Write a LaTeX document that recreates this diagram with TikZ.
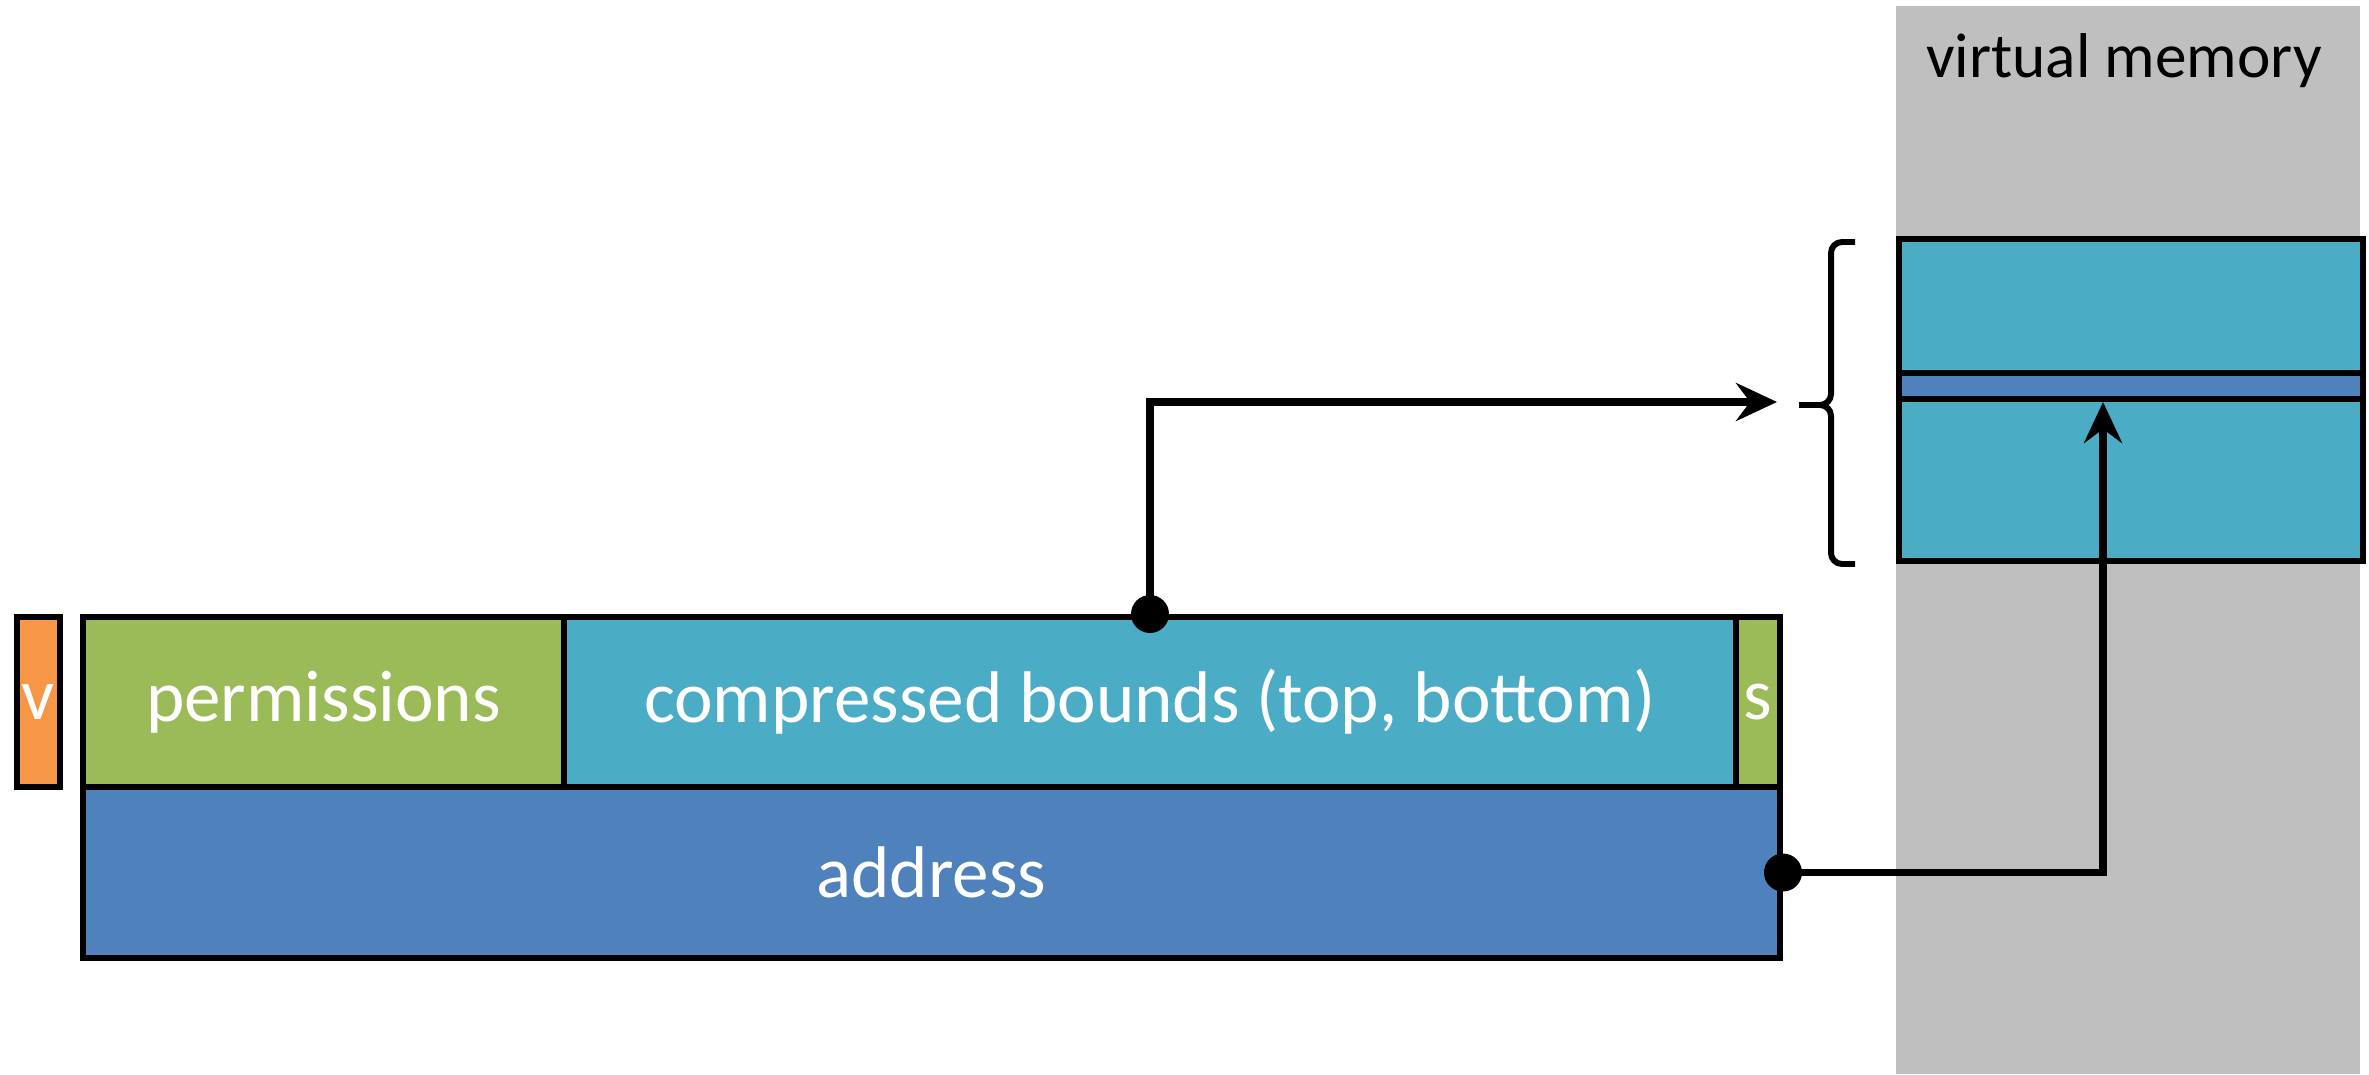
\documentclass[tikz,border=0pt]{standalone}
\usepackage{fontspec}
\setmainfont{Carlito}
\usetikzlibrary{arrows.meta}
\definecolor{validorange}{HTML}{F79646}
\definecolor{permgreen}{HTML}{9BBB59}
\definecolor{boundscyan}{HTML}{4BACC6}
\definecolor{addrblue}{HTML}{4F81BD}
\definecolor{memgray}{HTML}{BFBFBF}
\begin{document}
\begin{tikzpicture}[x=1mm,y=1mm,>={Stealth[length=4.1mm,width=3.8mm,inset=1.4mm]},
    font=\fontsize{20.8}{25}\selectfont,
    field/.style={draw,line width=1.7pt,fill=#1,text=white,inner sep=0pt,anchor=south west,minimum height=17mm},
    link/.style={line width=2.2pt}]
    \def\ylo{11.3}
    \def\yrow{28.4}
    \def\xref{210.3}
    \useasboundingbox (0,0) rectangle (236.9,107.4);

    % virtual memory column
    \fill[memgray] (189.6,0) rectangle (236.0,106.8);
    \node[anchor=base,font=\fontsize{18}{22}\selectfont] (vmlabel) at (212.4,99.6) {virtual memory};
    \node[draw,line width=1.7pt,fill=boundscyan,inner sep=0pt,anchor=south west,minimum width=46.4mm,minimum height=32.2mm] (region) at (189.6,51.0) {};
    \node[draw,line width=1.7pt,fill=addrblue,inner sep=0pt,anchor=south west,minimum width=46.4mm,minimum height=2.6mm] (slot) at (189.6,67.2) {};

    % capability fields
    \node[field=validorange,minimum width=4.3mm] (valid) at (1.4,\yrow) {v};
    \node[field=permgreen,minimum width=48.1mm] (perms) at (8.0,\yrow) {permissions};
    \node[field=boundscyan,minimum width=117.2mm] (bounds) at (56.1,\yrow) {compressed bounds (top, bottom)};
    \node[field=permgreen,minimum width=4.4mm] (sealed) at (173.3,\yrow) {s};
    \node[field=addrblue,minimum width=169.7mm,minimum height=17.1mm] (addr) at (8.0,\ylo) {address};

    % brace over the region
    \draw[line width=1.7pt,rounded corners=1.1mm] (185.5,83.2) -- (183.1,83.2) -- (183.1,66.9) -- (179.9,66.9);
    \draw[line width=1.7pt,rounded corners=1.1mm] (179.9,66.9) -- (183.1,66.9) -- (183.1,51.0) -- (185.5,51.0);

    \coordinate (boundsend) at (177.7,67.2);
    \coordinate (hit) at (\xref,67.2);
    \draw[link,->] (bounds.north) |- (boundsend);
    \draw[link,->] (addr.east) -| (hit);
    \fill (bounds.north) circle (1.9mm);
    \fill (addr.east) circle (1.9mm);
\end{tikzpicture}
\end{document}
